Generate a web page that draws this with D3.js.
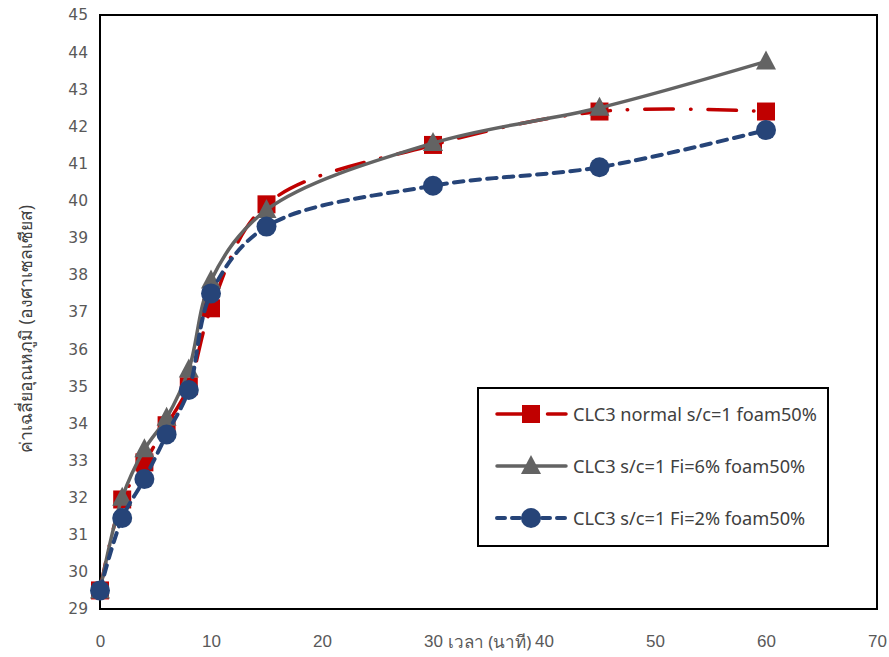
<!DOCTYPE html>
<html>
<head>
<meta charset="utf-8">
<script src="https://cdn.jsdelivr.net/npm/d3@7/dist/d3.min.js"></script>
<style>
  body { margin: 0; background: #fff; }
  svg { display: block; }
</style>
</head>
<body>
<svg id="chart" width="889" height="657"></svg>
<script>
// Time (minutes)
const minutes = [0, 2, 4, 6, 8, 10, 15, 30, 45, 60];
// Average temperature (°C) per mix
const normalFoam50 = [29.5, 31.95, 32.95, 33.95, 35.0, 37.1, 39.9, 41.5, 42.4, 42.4];
const fi6Foam50    = [29.5, 32.0, 33.3, 34.15, 35.45, 37.85, 39.75, 41.55, 42.5, 43.75];
const fi2Foam50    = [29.5, 31.45, 32.5, 33.7, 34.9, 37.5, 39.3, 40.4, 40.9, 41.9];

const seriesNames = [
  "CLC3 normal s/c=1 foam50%",
  "CLC3 s/c=1 Fi=6% foam50%",
  "CLC3 s/c=1 Fi=2% foam50%"
];
const xTicks = [0, 10, 20, 30, 40, 50, 60, 70];
const yTicks = d3.range(29, 46, 1);
const yTitle = "ค่าเฉลี่ยอุณหภูมิ (องศาเซลเซียส)";
const xTitle = "เวลา (นาที)";

const svg = d3.select("#chart");
const m = { left: 100, top: 15, right: 877, bottom: 609 };

const x = d3.scaleLinear().domain([0, 70]).range([m.left, m.right]);
const y = d3.scaleLinear().domain([29, 45]).range([m.bottom, m.top]);

const series = [
  { name: seriesNames[0], values: normalFoam50, color: "#C00000", width: 3.5, dash: "28.5 17 0.5 17", marker: "square" },
  { name: seriesNames[1], values: fi6Foam50,    color: "#636363", width: 3.5, dash: null,             marker: "triangle" },
  { name: seriesNames[2], values: fi2Foam50,    color: "#264478", width: 4,   dash: "9.5 7.2",        marker: "circle" }
];

// Plot frame
svg.append("rect")
  .attr("x", m.left).attr("y", m.top)
  .attr("width", m.right - m.left).attr("height", m.bottom - m.top)
  .attr("fill", "none").attr("stroke", "#000").attr("stroke-width", 2);

// Y axis tick labels
const yAxis = d3.axisLeft(y).tickValues(yTicks).tickSize(0).tickPadding(12);
const gy = svg.append("g").attr("transform", `translate(${m.left},0)`).call(yAxis);
gy.select(".domain").remove();
gy.selectAll("text")
  .attr("font-family", "'DejaVu Sans', Verdana, sans-serif")
  .attr("font-size", 15.5).attr("fill", "#595959");

// X axis tick labels
const xAxis = d3.axisBottom(x).tickValues(xTicks).tickSize(0).tickPadding(26);
const gx = svg.append("g").attr("transform", `translate(0,${m.bottom})`).call(xAxis);
gx.select(".domain").remove();
gx.selectAll("text")
  .attr("font-family", "'Liberation Sans Narrow', 'Liberation Sans', sans-serif")
  .attr("font-size", 17).attr("fill", "#595959");

// Axis titles
svg.append("text")
  .attr("transform", `translate(32,${(m.top + m.bottom) / 2 + 17}) rotate(-90)`)
  .attr("text-anchor", "middle")
  .attr("font-family", "'Noto Sans', 'DejaVu Sans', sans-serif")
  .attr("font-size", 17.5).attr("fill", "#404040")
  .text(yTitle);

svg.append("text")
  .attr("x", x(35.1)).attr("y", 648)
  .attr("text-anchor", "middle")
  .attr("font-family", "'Noto Sans', 'DejaVu Sans', sans-serif")
  .attr("font-size", 17).attr("fill", "#595959")
  .text(xTitle);

// Smoothed lines
const line = d3.line()
  .x((d, i) => x(minutes[i]))
  .y(d => y(d))
  .curve(d3.curveCatmullRom.alpha(0.5));

function drawMarker(g, type, cx, cy, color) {
  if (type === "square") {
    g.append("rect").attr("x", cx - 9).attr("y", cy - 9)
      .attr("width", 18).attr("height", 18).attr("fill", color);
  } else if (type === "triangle") {
    g.append("path")
      .attr("d", `M${cx},${cy - 11}L${cx + 10},${cy + 8}L${cx - 10},${cy + 8}Z`)
      .attr("fill", color);
  } else {
    g.append("circle").attr("cx", cx).attr("cy", cy).attr("r", 10).attr("fill", color);
  }
}

const plot = svg.append("g");
series.forEach(s => {
  const g = plot.append("g");
  g.append("path")
    .attr("d", line(s.values))
    .attr("fill", "none")
    .attr("stroke", s.color)
    .attr("stroke-width", s.width)
    .attr("stroke-linecap", "round")
    .attr("stroke-dasharray", s.dash);
  s.values.forEach((v, i) => drawMarker(g, s.marker, x(minutes[i]), y(v), s.color));
});

// Legend
const lg = svg.append("g");
lg.append("rect")
  .attr("x", 478).attr("y", 388).attr("width", 350).attr("height", 158)
  .attr("fill", "#fff").attr("stroke", "#000").attr("stroke-width", 2);
series.forEach((s, i) => {
  const cy = 414 + i * 52;
  lg.append("line")
    .attr("x1", 497).attr("x2", 566).attr("y1", cy).attr("y2", cy)
    .attr("stroke", s.color).attr("stroke-width", s.width)
    .attr("stroke-linecap", "round")
    .attr("stroke-dasharray", s.dash ? (i === 0 ? "26 12 0.5 12" : "8 7") : null);
  drawMarker(lg, s.marker, 531, cy, s.color);
  lg.append("text")
    .attr("x", 573).attr("y", cy + 6.5)
    .attr("font-family", "'Noto Sans', 'DejaVu Sans', sans-serif")
    .attr("font-size", 18.2).attr("fill", "#404040")
    .text(s.name);
});
</script>
</body>
</html>
